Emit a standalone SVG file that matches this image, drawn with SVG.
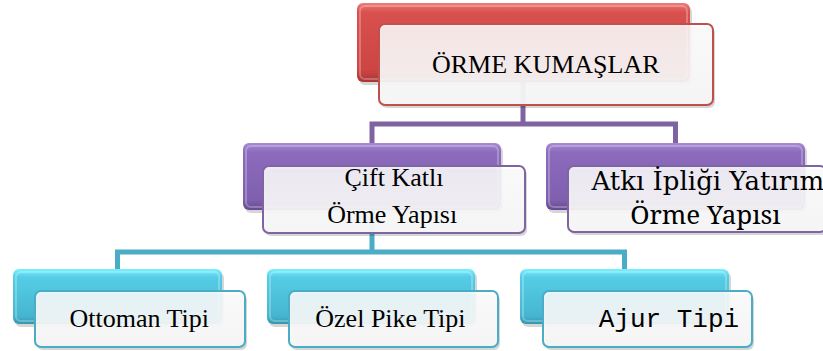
<svg xmlns="http://www.w3.org/2000/svg" width="823" height="351" viewBox="0 0 823 351">
<style>
.conP{fill:none;stroke:#8064a2;stroke-width:5}
.conT{fill:none;stroke:#4bacc6;stroke-width:5}
.sd{fill:#000;fill-opacity:0.16}
.front{fill:url(#gFront);stroke-width:2}
.fr{stroke:#c0504d}.fp{stroke:#8064a2}.ft{stroke:#4bacc6}
.hl{fill:none;stroke:#ffffff;stroke-opacity:0.25;stroke-width:2}
.lbl{font-size:26px;fill:#000}
</style>
<defs>
<linearGradient id="gRed" x1="0" y1="0" x2="0" y2="1">
<stop offset="0" stop-color="#ec7b78"/><stop offset="0.12" stop-color="#d9514e"/><stop offset="0.85" stop-color="#cc4542"/><stop offset="1" stop-color="#a83633"/>
</linearGradient>
<linearGradient id="gPur" x1="0" y1="0" x2="0" y2="1">
<stop offset="0" stop-color="#a98ad4"/><stop offset="0.14" stop-color="#8c6bbd"/><stop offset="0.85" stop-color="#7f5fae"/><stop offset="1" stop-color="#664a90"/>
</linearGradient>
<linearGradient id="gTeal" x1="0" y1="0" x2="0" y2="1">
<stop offset="0" stop-color="#7af0ff"/><stop offset="0.15" stop-color="#55cde6"/><stop offset="0.85" stop-color="#46b6d0"/><stop offset="1" stop-color="#3596ae"/>
</linearGradient>
<linearGradient id="gFront" x1="0" y1="0" x2="0" y2="1">
<stop offset="0" stop-color="#ffffff" stop-opacity="0.86"/><stop offset="1" stop-color="#f6f6f6" stop-opacity="0.96"/>
</linearGradient>
</defs>
<g id="connectors">
<path class="conP" d="M523,82 V124 M372,143 V124 H675.5 V143"/>
<path class="conT" d="M372,210 V252 M117.5,269 V252 H624.5 V269"/>
</g>
<g id="n-orme">
<rect class="sd" x="359" y="6" width="333" height="79" rx="6"/>
<rect x="357" y="3" width="333" height="79" rx="6" fill="url(#gRed)"/>
<rect class="hl" x="360" y="6" width="327" height="73" rx="5"/>
<rect class="sd" x="381" y="27" width="334" height="81" rx="6"/>
<rect class="front fr" x="379" y="24" width="334" height="81" rx="6"/>
<text class="lbl" font-family="Liberation Serif" x="432" y="73">ÖRME KUMAŞLAR</text>
</g>
<g id="n-cift">
<rect class="sd" x="245" y="146" width="258" height="67" rx="6"/>
<rect x="243" y="143" width="258" height="67" rx="6" fill="url(#gPur)"/>
<rect class="hl" x="246" y="146" width="252" height="61" rx="5"/>
<rect class="sd" x="265" y="169" width="262" height="67" rx="6"/>
<rect class="front fp" x="263" y="166" width="262" height="67" rx="6"/>
<text class="lbl" style="font-family:'Liberation Serif',serif" x="344.5" y="186">Çift Katlı</text>
<text class="lbl" font-family="serif" x="327.2" y="223">Örme Yapısı</text>
</g>
<g id="n-atki">
<rect class="sd" x="548" y="146" width="259" height="67" rx="6"/>
<rect x="546" y="143" width="259" height="67" rx="6" fill="url(#gPur)"/>
<rect class="hl" x="549" y="146" width="253" height="61" rx="5"/>
<rect class="sd" x="570" y="169" width="258" height="66" rx="6"/>
<rect class="front fp" x="568" y="166" width="258" height="66" rx="6"/>
<text class="lbl" font-family="DejaVu Serif" x="591.5" y="190">Atkı İpliği Yatırımlı</text>
<text class="lbl" font-family="Noto Serif" x="630.2" y="224">Örme Yapısı</text>
</g>
<g id="n-ottoman">
<rect class="sd" x="15" y="272" width="209" height="55" rx="6"/>
<rect x="13" y="269" width="209" height="55" rx="6" fill="url(#gTeal)"/>
<rect class="hl" x="16" y="272" width="203" height="49" rx="5"/>
<rect class="sd" x="37" y="294" width="210" height="56" rx="6"/>
<rect class="front ft" x="35" y="291" width="210" height="56" rx="6"/>
<text class="lbl" font-family="Times New Roman" x="69.6" y="327">Ottoman Tipi</text>
</g>
<g id="n-ozel">
<rect class="sd" x="269" y="272" width="208" height="55" rx="6"/>
<rect x="267" y="269" width="208" height="55" rx="6" fill="url(#gTeal)"/>
<rect class="hl" x="270" y="272" width="202" height="49" rx="5"/>
<rect class="sd" x="291" y="294" width="209" height="56" rx="6"/>
<rect class="front ft" x="289" y="291" width="209" height="56" rx="6"/>
<text class="lbl" font-family="Tinos" x="315.3" y="327">Özel Pike Tipi</text>
</g>
<g id="n-ajur">
<rect class="sd" x="522" y="272" width="209" height="55" rx="6"/>
<rect x="520" y="269" width="209" height="55" rx="6" fill="url(#gTeal)"/>
<rect class="hl" x="523" y="272" width="203" height="49" rx="5"/>
<rect class="sd" x="545" y="294" width="209" height="56" rx="6"/>
<rect class="front ft" x="543" y="291" width="209" height="56" rx="6"/>
<text class="lbl" font-family="Liberation Mono" x="598.75" y="327">Ajur Tipi</text>
</g>
</svg>
